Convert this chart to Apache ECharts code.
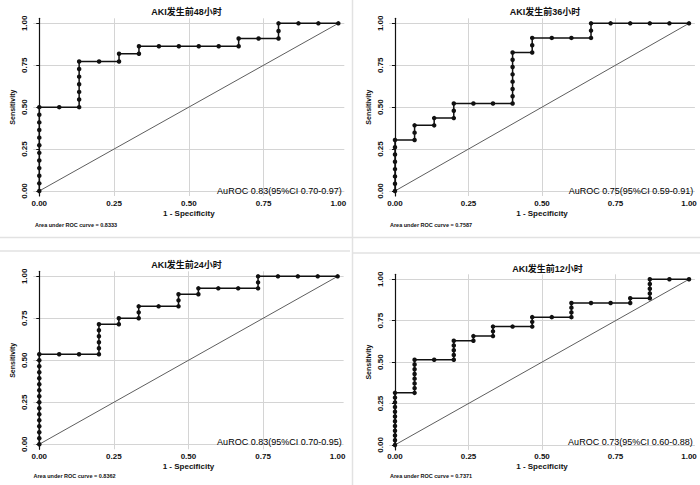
<!DOCTYPE html>
<html><head><meta charset="utf-8">
<script src="https://cdn.jsdelivr.net/npm/echarts@6/dist/echarts.min.js"></script>
<style>html,body{margin:0;padding:0;background:#fff}#c{width:700px;height:485px}</style>
</head><body><div id="c"></div>
<script>
// ---- data ----
const tickValues = [0, 0.25, 0.5, 0.75, 1];
const vGridValues = [0.25, 0.5, 0.75];
const titles = ['AKI发生前48小时', 'AKI发生前36小时', 'AKI发生前24小时', 'AKI发生前12小时'];
const aurocTexts = ['AuROC 0.83(95%CI 0.70-0.97)', 'AuROC 0.75(95%CI 0.59-0.91)', 'AuROC 0.83(95%CI 0.70-0.95)', 'AuROC 0.73(95%CI 0.60-0.88)'];
const areaTexts = ['Area under ROC curve = 0.8333', 'Area under ROC curve = 0.7587', 'Area under ROC curve = 0.8362', 'Area under ROC curve = 0.7371'];
const refLine = [[0, 0], [1, 1]];

const roc48 = [[0,0],[0,0.0455],[0,0.0909],[0,0.1364],[0,0.1818],[0,0.2273],[0,0.2727],[0,0.3182],[0,0.3636],[0,0.4091],[0,0.4545],[0,0.5],
  [0.0667,0.5],[0.1333,0.5],[0.1333,0.5455],[0.1333,0.5909],[0.1333,0.6364],[0.1333,0.6818],[0.1333,0.7273],[0.1333,0.7727],
  [0.2,0.7727],[0.2667,0.7727],[0.2667,0.8182],[0.3333,0.8182],[0.3333,0.8636],[0.4,0.8636],[0.4667,0.8636],[0.5333,0.8636],[0.6,0.8636],[0.6667,0.8636],
  [0.6667,0.9091],[0.7333,0.9091],[0.8,0.9091],[0.8,0.9545],[0.8,1],[0.8667,1],[0.9333,1],[1,1]];

const roc36 = [[0,0],[0,0.0435],[0,0.087],[0,0.1304],[0,0.1739],[0,0.2174],[0,0.2609],[0,0.3043],
  [0.0667,0.3043],[0.0667,0.3478],[0.0667,0.3913],[0.1333,0.3913],[0.1333,0.4348],
  [0.2,0.4348],[0.2,0.4783],[0.2,0.5217],[0.2667,0.5217],[0.3333,0.5217],
  [0.4,0.5217],[0.4,0.5652],[0.4,0.6087],[0.4,0.6522],[0.4,0.6957],[0.4,0.7391],[0.4,0.7826],[0.4,0.8261],
  [0.4667,0.8261],[0.4667,0.8696],[0.4667,0.913],[0.5333,0.913],[0.6,0.913],
  [0.6667,0.913],[0.6667,0.9565],[0.6667,1],[0.7333,1],[0.8,1],[0.8667,1],[0.9333,1],[1,1]];

const roc24 = [[0,0],[0,0.0357],[0,0.0714],[0,0.1071],[0,0.1429],[0,0.1786],[0,0.2143],[0,0.25],[0,0.2857],[0,0.3214],[0,0.3571],[0,0.3929],[0,0.4286],[0,0.4643],[0,0.5],[0,0.5357],
  [0.0667,0.5357],[0.1333,0.5357],
  [0.2,0.5357],[0.2,0.5714],[0.2,0.6071],[0.2,0.6429],[0.2,0.6786],[0.2,0.7143],
  [0.2667,0.7143],[0.2667,0.75],[0.3333,0.75],[0.3333,0.7857],[0.3333,0.8214],[0.4,0.8214],
  [0.4667,0.8214],[0.4667,0.8571],[0.4667,0.8929],[0.5333,0.8929],[0.5333,0.9286],[0.6,0.9286],[0.6667,0.9286],
  [0.7333,0.9286],[0.7333,0.9643],[0.7333,1],[0.8,1],[0.8667,1],[0.9333,1],[1,1]];

const roc12 = [[0,0],[0,0.0286],[0,0.0571],[0,0.0857],[0,0.1143],[0,0.1429],[0,0.1714],[0,0.2],[0,0.2286],[0,0.2571],[0,0.2857],[0,0.3143],
  [0.0667,0.3143],[0.0667,0.3429],[0.0667,0.3714],[0.0667,0.4],[0.0667,0.4286],[0.0667,0.4571],[0.0667,0.4857],[0.0667,0.5143],
  [0.1333,0.5143],[0.2,0.5143],[0.2,0.5429],[0.2,0.5714],[0.2,0.6],[0.2,0.6286],
  [0.2667,0.6286],[0.2667,0.6571],[0.3333,0.6571],[0.3333,0.6857],[0.3333,0.7143],[0.4,0.7143],
  [0.4667,0.7143],[0.4667,0.7429],[0.4667,0.7714],[0.5333,0.7714],
  [0.6,0.7714],[0.6,0.8],[0.6,0.8286],[0.6,0.8571],[0.6667,0.8571],[0.7333,0.8571],
  [0.8,0.8571],[0.8,0.8857],[0.8667,0.8857],[0.8667,0.9143],[0.8667,0.9429],[0.8667,0.9714],[0.8667,1],[0.9333,1],[1,1]];

const rocSets = [roc48, roc36, roc24, roc12];

// ---- layout ----
const panels = [
  {left: 33.3, top: 18.3, width: 311, height: 177.7, titleX: 186.5, titleY: 12, aurX: 341.7, aurY: 191, areaX: 35, areaY: 225},
  {left: 389.1, top: 18.3, width: 305.8, height: 177.7, titleX: 545, titleY: 12, aurX: 693.3, aurY: 191, areaX: 390, areaY: 225},
  {left: 33.3, top: 271.3, width: 310.3, height: 178, titleX: 186.5, titleY: 264.5, aurX: 341.7, aurY: 441.7, areaX: 33.5, areaY: 475.8},
  {left: 389.1, top: 274.3, width: 305.8, height: 175.6, titleX: 547.5, titleY: 268.7, aurX: 692.7, aurY: 441.7, areaX: 390, areaY: 475.8}
];

const FONT = '"Liberation Sans", Arial, sans-serif';
const CJK = '"Liberation Sans", "Noto Sans CJK SC", sans-serif';
const gridLine = {show: true, lineStyle: {color: '#d4d4d4', width: 1, type: 'solid'}};

const grid = [], xAxis = [], yAxis = [], series = [], graphic = [];
panels.forEach((p, i) => {
  grid.push({left: p.left, top: p.top, width: p.width, height: p.height, containLabel: false});
  xAxis.push({
    type: 'value', gridIndex: i, min: -0.02, max: 1.02,
    axisLine: {show: false}, axisTick: {show: false, customValues: vGridValues}, splitLine: gridLine,
    axisLabel: {customValues: tickValues, formatter: v => v.toFixed(2), fontSize: 8, fontWeight: 'bold', color: '#111', fontFamily: FONT, margin: 3},
    name: '1 - Specificity', nameLocation: 'middle', nameGap: 13,
    nameTextStyle: {fontSize: 8, fontWeight: 'bold', color: '#111', fontFamily: FONT}
  });
  yAxis.push({
    type: 'value', gridIndex: i, min: -0.03, max: 1.03,
    axisLine: {show: true, lineStyle: {color: '#111', width: 1.2}},
    axisTick: {show: true, customValues: tickValues, length: 3, lineStyle: {color: '#111'}},
    splitLine: gridLine,
    axisLabel: {customValues: tickValues, formatter: v => v.toFixed(2), rotate: 90, fontSize: 8, fontWeight: 'bold', color: '#111', fontFamily: FONT, margin: 5},
    name: 'Sensitivity', nameLocation: 'middle', nameGap: 17,
    nameTextStyle: {fontSize: 7, fontWeight: 'bold', color: '#111', fontFamily: FONT}
  });
  series.push({
    type: 'line', xAxisIndex: i, yAxisIndex: i, data: refLine, z: 2,
    symbol: 'none', lineStyle: {color: '#5e5e5e', width: 1}, silent: true
  });
  series.push({
    type: 'line', xAxisIndex: i, yAxisIndex: i, data: rocSets[i], z: 10,
    symbol: 'circle', symbolSize: 4.5, showAllSymbol: true,
    itemStyle: {color: '#111', borderWidth: 0}, lineStyle: {color: '#111', width: 1.5}
  });
  graphic.push({type: 'text', z: 100, x: p.titleX, y: p.titleY, style: {text: titles[i], textAlign: 'center', textVerticalAlign: 'middle', font: 'bold 9px ' + CJK, fill: '#111'}});
  graphic.push({type: 'text', z: 100, x: p.aurX, y: p.aurY, style: {text: aurocTexts[i], textAlign: 'right', textVerticalAlign: 'middle', font: '9px ' + FONT, fill: '#000'}});
  graphic.push({type: 'text', z: 100, x: p.areaX, y: p.areaY, style: {text: areaTexts[i], textAlign: 'left', textVerticalAlign: 'middle', font: 'bold 5.5px ' + FONT, fill: '#111'}});
});

// panel separators
const sepStyle = {stroke: '#e2e2e2', lineWidth: 1.5};
graphic.push({type: 'line', shape: {x1: 0, y1: 237.5, x2: 700, y2: 237.5}, style: sepStyle, silent: true});
graphic.push({type: 'line', shape: {x1: 0, y1: 251, x2: 350, y2: 251}, style: sepStyle, silent: true});
graphic.push({type: 'line', shape: {x1: 352, y1: 253, x2: 700, y2: 253}, style: sepStyle, silent: true});
graphic.push({type: 'line', shape: {x1: 352.5, y1: 0, x2: 352.5, y2: 485}, style: sepStyle, silent: true});

const chart = echarts.init(document.getElementById('c'), null, {renderer: 'svg'});
chart.setOption({animation: false, backgroundColor: '#fff', grid, xAxis, yAxis, series, graphic});
</script>
</body></html>
